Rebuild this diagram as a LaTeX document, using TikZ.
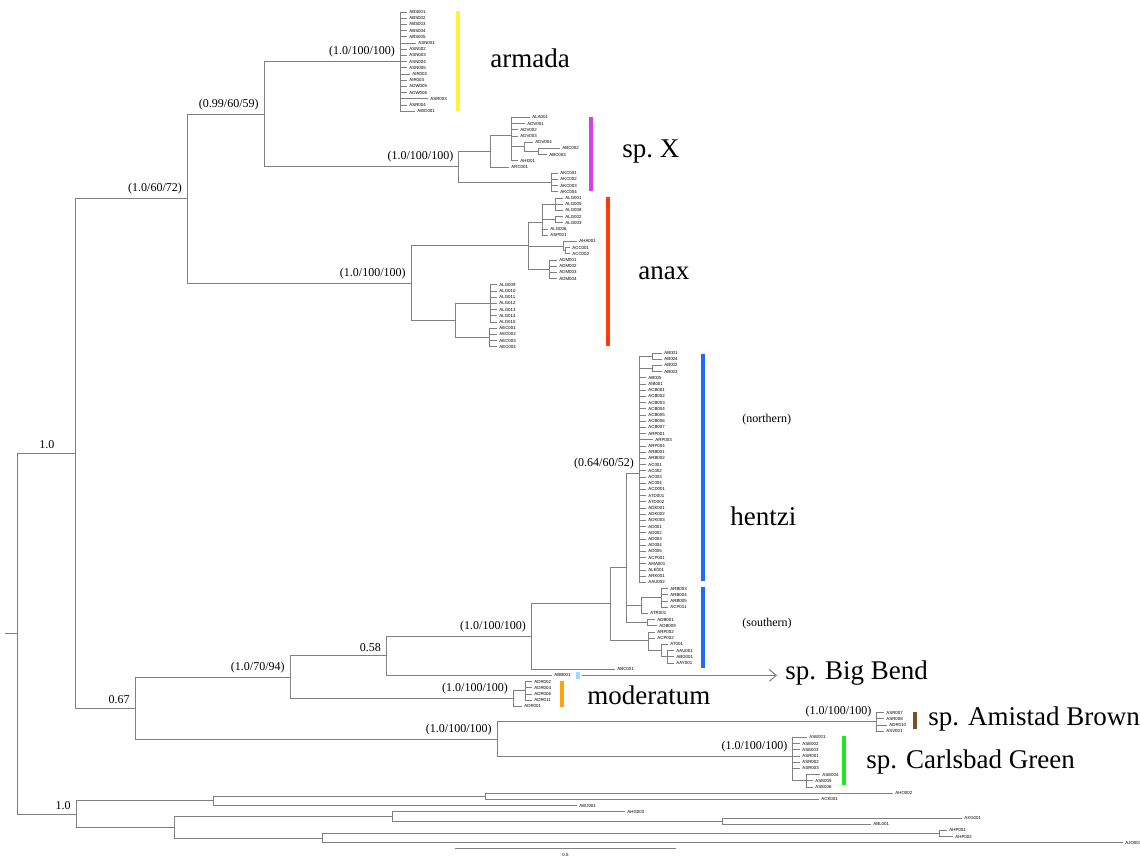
\documentclass[tikz,border=0pt]{standalone}
\usepackage{fontspec}
\setmainfont{Liberation Serif}
\setsansfont{Liberation Sans}
\usepackage{tikz}
\usetikzlibrary{arrows.meta}
\definecolor{branchGray}{HTML}{808080}
\definecolor{armadaYellow}{HTML}{FFF533}
\definecolor{spxMagenta}{HTML}{D040F0}
\definecolor{anaxRed}{HTML}{FF3B0A}
\definecolor{hentziBlue}{HTML}{1F6BFF}
\definecolor{bigBendBlue}{HTML}{9DD9FA}
\definecolor{modOrange}{HTML}{FFA30A}
\definecolor{amistadBrown}{HTML}{7B5127}
\definecolor{carlsbadGreen}{HTML}{1FE81F}

\begin{document}
\begin{tikzpicture}[x=0.5pt, y=-0.5pt,
  br/.style={draw=branchGray, line width=0.5pt},
  tip/.style={anchor=west, inner sep=1pt, font=\sffamily\fontsize{2.2}{2.6}\selectfont},
  supp/.style={anchor=south east, inner sep=0.5pt, font=\fontsize{6}{7}\selectfont},
  clade/.style={anchor=west, inner sep=0pt, font=\fontsize{13.5}{16}\selectfont},
  note/.style={anchor=west, inner sep=0pt, font=\fontsize{6}{7}\selectfont}]
  \useasboundingbox (0,0) rectangle (1140,858);

  % Tips: index/end of branch/label, row y = 12 + 6.2*index
  % armada
  \foreach \k/\xe/\lab in {0/407/ABS001, 1/407/ABS002, 2/407/ABS003, 3/407/ABS004,
      4/407/ABS005, 5/416/ASN001, 6/407/ASN002, 7/407/ASN003, 8/407/ASN004,
      9/407/ASN005, 10/410/AIR002, 11/407/AIR003, 12/407/ADW005, 13/407/ADW006,
      14/428/ASR003, 15/407/ASR004, 16/415/AWD001}
    \node[tip] (t\k) at ({\xe},{12+6.2*\k}) {\lab};
  % sp. X
  \foreach \k/\xe/\lab in {17/530/ALA001, 18/525/ADV001, 19/518/ADV002, 20/518/ADV003,
      21/533/ADV004, 22/560/ABC002, 23/547/ABC003, 24/518/AHI001, 25/509/ARC001,
      26/558/AKC001, 27/558/AKC002, 28/558/AKC003, 29/558/AKC004}
    \node[tip] (t\k) at ({\xe},{12+6.2*\k}) {\lab};
  % anax
  \foreach \k/\xe/\lab in {30/563/ALG001, 31/563/ALG005, 32/563/ALG008, 33/563/ALG002,
      34/563/ALG003, 35/548/ALG006, 36/548/ASP001, 37/577/AHA001, 38/570/ACC001,
      39/570/ACC002, 40/557/ADM001, 41/557/ADM002, 42/557/ADM003, 43/557/ADM004,
      44/497/ALG009, 45/497/ALG010, 46/497/ALG011, 47/497/ALG012, 48/497/ALG013,
      49/497/ALG014, 50/497/ALG015, 51/497/AEC001, 52/497/AEC002, 53/497/AEC003,
      54/497/AEC004}
    \node[tip] (t\k) at ({\xe},{12+6.2*\k}) {\lab};
  % hentzi (northern)
  \foreach \k/\xe/\lab in {55/662/AB001, 56/662/AB004, 57/662/AB002, 58/662/AB003,
      59/646/AB005, 60/646/AIB001, 61/646/ACB001, 62/646/ACB002, 63/646/ACB003,
      64/646/ACB004, 65/646/ACB005, 66/646/ACB006, 67/646/ACB007, 68/646/ARP001,
      69/653/ARP003, 70/646/ARP004, 71/646/ARB001, 72/646/ARB002, 73/646/AC001,
      74/646/AC002, 75/646/AC003, 76/646/AC004, 77/646/ACD001, 78/646/ATD001,
      79/646/ATD002, 80/646/ADK001, 81/646/ADK002, 82/646/ADK003, 83/646/AD001,
      84/646/AD002, 85/646/AD003, 86/646/AD004, 87/646/AD005, 88/646/ACP001,
      89/646/AMA001, 90/646/ALE001, 91/646/ARK001, 92/646/AAU002}
    \node[tip] (t\k) at ({\xe},{12+6.2*\k}) {\lab};
  % hentzi (southern), ABC001, Big Bend
  \foreach \k/\xe/\lab in {93/668/ARB003, 94/668/ARB004, 95/668/ARB005, 96/668/ACP011,
      97/648/ATR001, 98/655/ADB001, 99/657/ADB009, 100/655/ARP002, 101/655/ACP002,
      102/668/AT001, 103/674/AAU001, 104/674/ABG001, 105/674/AAY001, 106/615/ABC001,
      107/552/ABB001}
    \node[tip] (t\k) at ({\xe},{12+6.2*\k}) {\lab};
  % moderatum, Amistad Brown, Carlsbad Green
  \foreach \k/\xe/\lab in {108/532/ADR002, 109/532/ADR004, 110/532/ADR006, 111/532/ADR011,
      112/522/ADR001, 113/884/ASR007, 114/884/ASR008, 115/887/ADR010, 116/884/ASV001,
      117/807/ASE001, 118/800/ASE002, 119/800/ASE003, 120/800/ASR001, 121/800/ASR002,
      122/800/ASR003, 123/820/ASE004, 124/813/ASE005, 125/813/ASE006}
    \node[tip] (t\k) at ({\xe},{12+6.2*\k}) {\lab};
  % outgroup
  \foreach \k/\xe/\lab in {126/893/AHO002, 127/819/ACK001, 128/577/AWJ001, 129/625/AHG003,
      130/962/AXG001, 131/871/ABL001, 132/947/AHP001, 133/953/AHP002, 134/1123/AJO001}
    \node[tip] (t\k) at ({\xe},{12+6.2*\k}) {\lab};

  % Internal nodes
  \coordinate (stub) at (5,633.75);
  \coordinate (root) at (17.4,633.75);
  \coordinate (ingroup) at (75.7,453.4);
  \coordinate (upperClade) at (187.3,198.7);
  \coordinate (armSpx) at (264,114.25);
  \coordinate (arm) at (400.3,61.6);
  \coordinate (spx) at (458.7,166.9);
  \coordinate (spxA) at (490,151.37);
  \coordinate (spxB) at (511.7,135.74);
  \coordinate (spxC) at (524,146.85);
  \coordinate (spxD) at (538,151.5);
  \coordinate (spxE) at (551.7,182.5);
  \coordinate (anax) at (411,283.1);
  \coordinate (anaxA) at (528.3,245.8);
  \coordinate (anaxB) at (542.3,222.03);
  \coordinate (anaxC) at (555.7,204.2);
  \coordinate (anaxD) at (555.7,219.7);
  \coordinate (anaxE) at (563.3,246.05);
  \coordinate (anaxF) at (565,250.7);
  \coordinate (anaxG) at (549,269.3);
  \coordinate (anaxH) at (455.3,320.45);
  \coordinate (anaxI) at (490.7,303.4);
  \coordinate (anaxJ) at (489.3,337.5);
  \coordinate (lowerClade) at (135,708.35);
  \coordinate (hzMod) at (290,677.3);
  \coordinate (hzBB) at (386.3,655.95);
  \coordinate (hz) at (531.3,636.5);
  \coordinate (hzA) at (610.7,603.8);
  \coordinate (hzB) at (626,567.3);
  \coordinate (north) at (639.3,473.56);
  \coordinate (northA) at (652.3,356.1);
  \coordinate (northB) at (652.3,368.5);
  \coordinate (southA) at (641,605.65);
  \coordinate (southB) at (661.7,597.9);
  \coordinate (southC) at (647.7,622.7);
  \coordinate (southD) at (648.3,640.27);
  \coordinate (southE) at (661.7,650.6);
  \coordinate (southF) at (667.3,656.8);
  \coordinate (mod) at (513.3,698.65);
  \coordinate (modA) at (525.7,690.9);
  \coordinate (amCg) at (497,739.4);
  \coordinate (am) at (876.7,721.9);
  \coordinate (cg) at (792.7,756.9);
  \coordinate (cgA) at (806,780.8);
  \coordinate (outgroup) at (76,814.1);
  \coordinate (outA) at (213,800.95);
  \coordinate (outB) at (485,796.3);
  \coordinate (outC) at (174,827.3);
  \coordinate (outD) at (392,816.45);
  \coordinate (outE) at (722,821.1);
  \coordinate (outF) at (322,838.15);
  \coordinate (outG) at (939,833.5);

  % Branches between internal nodes
  \draw[br] (stub) -- (root);
  \foreach \p/\c in {root/ingroup, root/outgroup, ingroup/upperClade, ingroup/lowerClade,
      upperClade/armSpx, upperClade/anax, armSpx/arm, armSpx/spx, spx/spxA, spx/spxE,
      spxA/spxB, spxB/spxC, spxC/spxD, anax/anaxA, anax/anaxH, anaxA/anaxB, anaxA/anaxE,
      anaxA/anaxG, anaxB/anaxC, anaxB/anaxD, anaxE/anaxF, anaxH/anaxI, anaxH/anaxJ,
      lowerClade/hzMod, lowerClade/amCg, hzMod/hzBB, hzMod/mod, hzBB/hz, hz/hzA,
      hzA/hzB, hzA/southD, hzB/north, hzB/southA, hzB/southC, north/northA, north/northB,
      southA/southB, southD/southE, southE/southF, mod/modA, amCg/am, amCg/cg, cg/cgA,
      outgroup/outA, outgroup/outC, outA/outB, outC/outD, outC/outF, outD/outE, outF/outG}
    \draw[br] (\p) |- (\c);

  % Branches to tips
  \foreach \p/\a/\b in {arm/0/16, spxB/17/20, spxC/21/21, spxD/22/23, spxB/24/24,
      spxA/25/25, spxE/26/29, anaxC/30/32, anaxD/33/34, anaxB/35/36, anaxE/37/37,
      anaxF/38/39, anaxG/40/43, anaxI/44/50, anaxJ/51/54, northA/55/56, northB/57/58,
      north/59/92, southB/93/96, southA/97/97, southC/98/99, southD/100/101,
      southE/102/102, southF/103/105, hz/106/106, hzBB/107/107, modA/108/111,
      mod/112/112, am/113/116, cg/117/122, cgA/123/125, outB/126/127, outA/128/128,
      outD/129/129, outE/130/131, outG/132/133, outF/134/134}
    \foreach \k in {\a,...,\b}
      \draw[br] (\p) |- (t\k.west);

  % Support values
  \node[supp] (sIn) at ([shift={(-20,-3)}]ingroup) {1.0};
  \node[supp] (sOut) at ([shift={(-4,-3)}]outgroup) {1.0};
  \node[supp] (sUpper) at ([shift={(-4,-3)}]upperClade) {(1.0/60/72)};
  \node[supp] (sArmSpx) at ([shift={(-4,-3)}]armSpx) {(0.99/60/59)};
  \node[supp] (sArm) at ([shift={(-4,-3)}]arm) {(1.0/100/100)};
  \node[supp] (sSpx) at ([shift={(-4,-3)}]spx) {(1.0/100/100)};
  \node[supp] (sAnax) at ([shift={(-4,-3)}]anax) {(1.0/100/100)};
  \node[supp] (sNorth) at ([shift={(-4,-3)}]north) {(0.64/60/52)};
  \node[supp] (sHz) at ([shift={(-4,-3)}]hz) {(1.0/100/100)};
  \node[supp] (sHzBB) at ([shift={(-4,-3)}]hzBB) {0.58};
  \node[supp] (sHzMod) at ([shift={(-4,-3)}]hzMod) {(1.0/70/94)};
  \node[supp] (sMod) at ([shift={(-4,-3)}]mod) {(1.0/100/100)};
  \node[supp] (sLower) at ([shift={(-4,-3)}]lowerClade) {0.67};
  \node[supp] (sAmCg) at ([shift={(-4,-3)}]amCg) {(1.0/100/100)};
  \node[supp] (sAm) at ([shift={(-4,-3)}]am) {(1.0/100/100)};
  \node[supp] (sCg) at ([shift={(-4,-3)}]cg) {(1.0/100/100)};

  % Clade bars
  \fill[armadaYellow] (456,11) rectangle (460,110.5);
  \fill[spxMagenta] (589,116.5) rectangle (593,190.5);
  \fill[anaxRed] (605.5,197) rectangle (609.5,345.5);
  \fill[hentziBlue] (701,354) rectangle (705,580.5);
  \fill[hentziBlue] (701,586.5) rectangle (705,667.5);
  \fill[bigBendBlue] (576,671.5) rectangle (580,678.5);
  \fill[modOrange] (559.5,680.5) rectangle (563.5,706.5);
  \fill[amistadBrown] (913,712) rectangle (917,728.5);
  \fill[carlsbadGreen] (842,736) rectangle (846,785);

  % Big Bend arrow
  \coordinate (bbStart) at (582,675.4);
  \coordinate (bbTip) at (777,675.4);
  \draw[br, -{Straight Barb[length=3.5pt, width=6pt]}] (bbStart) -- (bbTip);

  % Clade names
  \node[clade] (cArmada) at (490,58) {armada};
  \node[clade] (cSpx) at (622,152) {sp.~X};
  \node[clade] (cAnax) at (638,273) {anax};
  \node[clade] (cHentzi) at (730,516) {hentzi};
  \node[note] (cNorthern) at (742,420) {(northern)};
  \node[note] (cSouthern) at (742,624) {(southern)};
  \node[clade] (cBigBend) at (785,673) {sp. Big Bend};
  \node[clade] (cModeratum) at (587,695) {moderatum};
  \node[clade] (cAmistad) at (928,719) {sp. Amistad Brown};
  \node[clade] (cCarlsbad) at (866,762) {sp. Carlsbad Green};

  % Scale bar
  \coordinate (sb0) at (455,848);
  \coordinate (sb1) at (676,848);
  \draw[br] (sb0) -- (sb1);
  \node[tip, anchor=north] (sbLab) at (565.5,851) {0.5};
\end{tikzpicture}
\end{document}
